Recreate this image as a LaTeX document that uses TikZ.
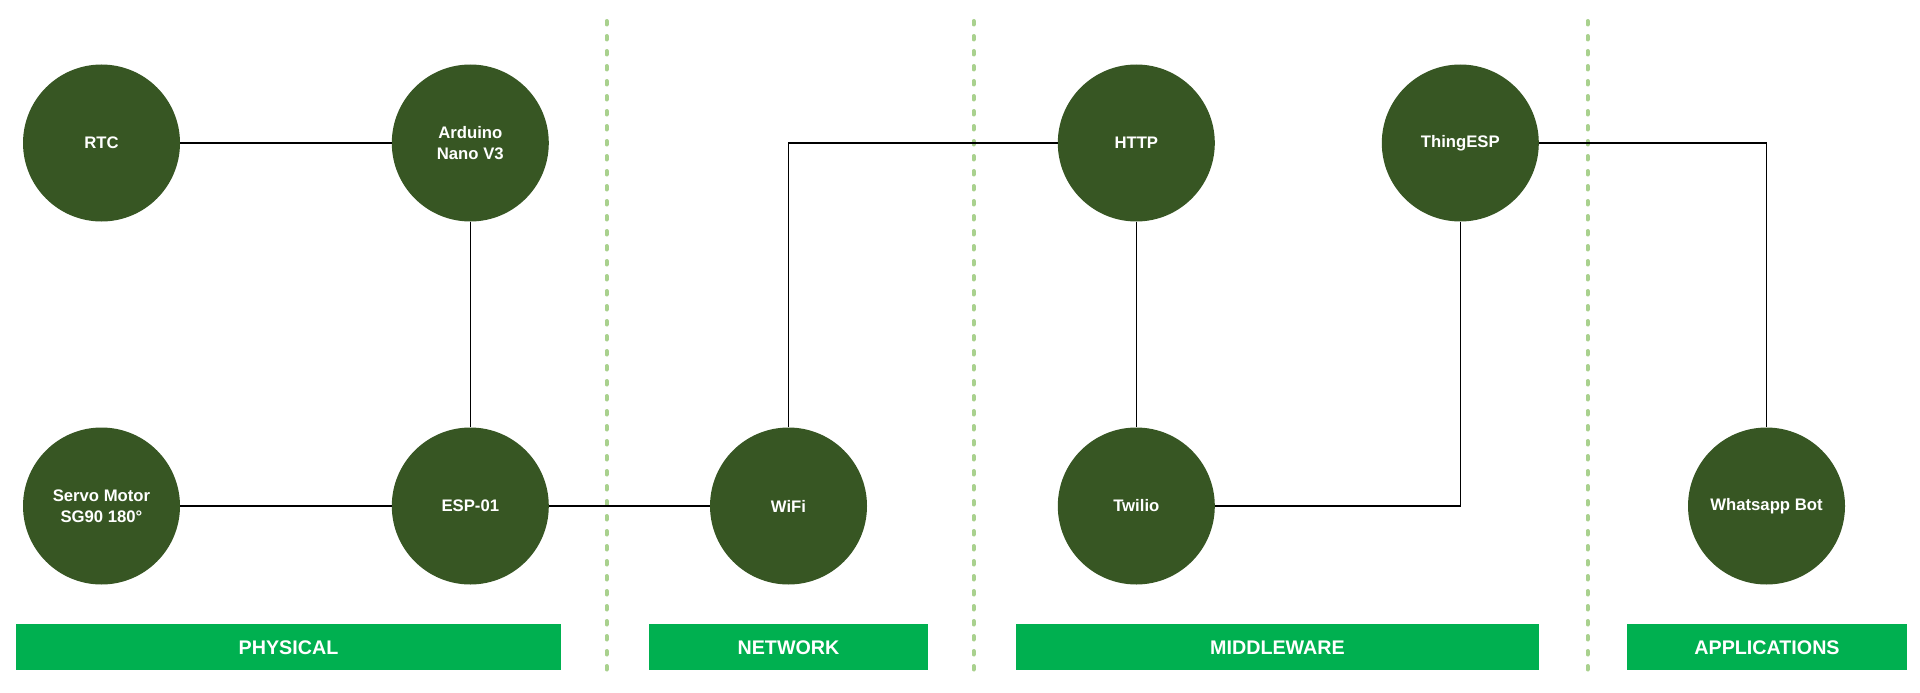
\documentclass[tikz,border=0pt]{standalone}
\usepackage{fontspec}
\setmainfont{Liberation Sans}
\definecolor{nodegreen}{RGB}{55,86,35}
\definecolor{bargreen}{RGB}{0,176,80}
\definecolor{sepgreen}{RGB}{169,209,142}

\begin{document}
\begin{tikzpicture}[x=1pt,y=-1pt]

\tikzset{vertex/.style = {shape=circle,fill=nodegreen,minimum size=157pt,inner sep=0pt,text=white,align=center,font=\fontsize{16.7}{20.7}\selectfont\bfseries}}
\tikzset{edge/.style = {black,line width=1.4pt}}
\tikzset{layer/.style = {fill=bargreen,minimum height=46pt,inner sep=0pt,text=white,font=\fontsize{19.7}{22}\selectfont\bfseries}}
\tikzset{sep/.style = {sepgreen,line width=4pt,line cap=round,dash pattern=on 3.5pt off 11.5pt}}

\useasboundingbox (0,0) rectangle (1920,693);
%separators
\foreach \x in {606.5,973.5,1587.5}
  \draw [sep] (\x,21) -- (\x,671);
%layers
\node[layer, minimum width=545pt] (physical) at (288.5,647.3) {PHYSICAL};
\node[layer, minimum width=279pt] (network) at (788.5,647.3) {NETWORK};
\node[layer, minimum width=523pt] (middleware) at (1277.5,647.3) {MIDDLEWARE};
\node[layer, minimum width=280pt] (applications) at (1767,647.3) {APPLICATIONS};
%verticies
\node[vertex] (rtc) at (101.5,143) {RTC};
\node[vertex] (arduino) at (470.3,143) {Arduino\\Nano V3};
\node[vertex] (servo) at (101.5,506) {Servo Motor\\SG90 180°};
\node[vertex] (esp) at (470.3,506) {ESP-01};
\node[vertex] (wifi) at (788.5,506) {WiFi};
\node[vertex] (http) at (1136.3,143) {HTTP};
\node[vertex] (twilio) at (1136.3,506) {Twilio};
\node[vertex] (thingesp) at (1460.3,143) {ThingESP};
\node[vertex] (whatsapp) at (1766.5,506) {Whatsapp Bot};
%edges
\draw [edge] (rtc) -- (arduino);
\draw [edge] (arduino) -- (esp);
\draw [edge] (servo) -- (esp);
\draw [edge] (esp) -- (wifi);
\draw [edge] (wifi.north) |- (http.west);
\draw [edge] (http) -- (twilio);
\draw [edge] (twilio.east) -| (thingesp.south);
\draw [edge] (thingesp.east) -| (whatsapp.north);

\end{tikzpicture}
\end{document}
